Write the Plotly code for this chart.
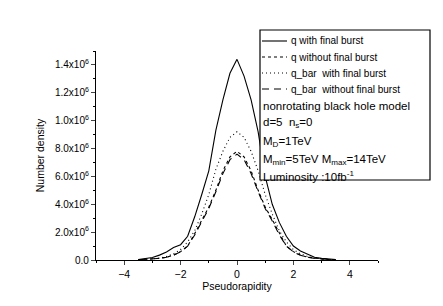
import plotly.graph_objects as go

eta = [-3.5, -3.25, -3.0, -2.75, -2.5, -2.25, -2.0, -1.75, -1.5, -1.25, -1.0, -0.75, -0.5, -0.25,
       0.0, 0.25, 0.5, 0.75, 1.0, 1.25, 1.5, 1.75, 2.0, 2.25, 2.5, 2.75, 3.0, 3.25, 3.5]

q_with_fb = [0.003, 0.008, 0.018, 0.035, 0.058, 0.09, 0.11, 0.17, 0.31, 0.47, 0.64, 0.93, 1.15, 1.34,
             1.44, 1.32, 1.15, 0.92, 0.60, 0.40, 0.27, 0.17, 0.10, 0.065, 0.04, 0.02, 0.012, 0.006, 0.003]
q_without_fb = [0.002, 0.004, 0.007, 0.012, 0.02, 0.035, 0.06, 0.10, 0.19, 0.29, 0.38, 0.50, 0.64, 0.74,
                0.78, 0.74, 0.64, 0.50, 0.38, 0.29, 0.19, 0.10, 0.06, 0.035, 0.02, 0.012, 0.007, 0.004, 0.002]
qbar_with_fb = [0.002, 0.004, 0.008, 0.014, 0.025, 0.045, 0.075, 0.13, 0.21, 0.33, 0.47, 0.65, 0.78, 0.88,
                0.92, 0.88, 0.78, 0.64, 0.47, 0.33, 0.21, 0.13, 0.075, 0.045, 0.025, 0.014, 0.008, 0.004, 0.002]
qbar_without_fb = [0.002, 0.004, 0.007, 0.012, 0.02, 0.034, 0.058, 0.10, 0.18, 0.28, 0.37, 0.49, 0.62, 0.72,
                   0.76, 0.72, 0.62, 0.49, 0.37, 0.28, 0.18, 0.10, 0.058, 0.034, 0.02, 0.012, 0.007, 0.004, 0.002]

series_names = ["q with final burst", "q without final burst", "q_bar  with final burst", "q_bar  without final burst"]
series_values = [q_with_fb, q_without_fb, qbar_with_fb, qbar_without_fb]
series_dash = ["solid", "3px,3px", "1px,3px", "7px,5px"]

y_tickvals = [0.0, 0.2, 0.4, 0.6, 0.8, 1.0, 1.2, 1.4]
y_ticktext = ["0.0", "2.0x10<sup>6</sup>", "4.0x10<sup>6</sup>", "6.0x10<sup>6</sup>", "8.0x10<sup>6</sup>",
              "1.0x10<sup>6</sup>", "1.2x10<sup>6</sup>", "1.4x10<sup>6</sup>"]
x_tickvals = [-4, -2, 0, 2, 4]

info_lines = ["nonrotating black hole model", "d=5  n<sub>s</sub>=0", "M<sub>D</sub>=1TeV",
              "M<sub>min</sub>=5TeV M<sub>max</sub>=14TeV", "Luminosity :10fb<sup>-1</sup>"]

FONT = "Liberation Sans, Arial, sans-serif"

fig = go.Figure()
for name, vals, dash in zip(series_names, series_values, series_dash):
    fig.add_trace(go.Scatter(x=eta, y=vals, mode="lines", name=name,
                             line=dict(color="black", width=1.1, dash=dash), showlegend=False))

# plot area geometry (pixels)
L, R, T, B = 88, 370, 43, 252
W, H = R - L, B - T
def px(xp): return (xp - L) / W
def py(yp): return (B - yp) / H

shapes = [dict(type="rect", xref="paper", yref="paper", x0=px(252), x1=px(422), y0=py(172), y1=py(22),
               line=dict(color="black", width=1.2), fillcolor="white", layer="above")]
annotations = []
row_y = [33, 49, 65, 81]
for name, dash, yy in zip(series_names, series_dash, row_y):
    shapes.append(dict(type="line", xref="paper", yref="paper", x0=px(254), x1=px(279), y0=py(yy), y1=py(yy),
                       line=dict(color="black", width=1.1, dash=dash), layer="above"))
    annotations.append(dict(xref="paper", yref="paper", x=px(281), y=py(yy), text=name, showarrow=False,
                            xanchor="left", yanchor="middle", font=dict(size=10, color="black", family=FONT)))
info_y = [98, 115, 134, 152, 168]
for txt, yy in zip(info_lines, info_y):
    annotations.append(dict(xref="paper", yref="paper", x=px(253), y=py(yy), text=txt, showarrow=False,
                            xanchor="left", yanchor="middle", font=dict(size=11.5, color="black", family=FONT)))

fig.update_layout(
    width=443, height=306, margin=dict(l=L, r=443 - R, t=T, b=306 - B),
    paper_bgcolor="white", plot_bgcolor="white",
    font=dict(family=FONT, size=10, color="black"),
    shapes=shapes, annotations=annotations,
    xaxis=dict(range=[-5, 5], tickvals=x_tickvals, ticks="outside", ticklen=4, tickwidth=1,
               showline=True, linecolor="black", linewidth=1.2, showgrid=False, zeroline=False,
               minor=dict(tickvals=[-5, -3, -1, 1, 3, 5], ticks="outside", ticklen=2, tickcolor="black"),
               title=dict(text="Pseudorapidity", font=dict(size=10.5), standoff=2),
               tickfont=dict(size=10.5)),
    yaxis=dict(range=[0, 1.5], tickvals=y_tickvals, ticktext=y_ticktext, ticks="outside", ticklen=4, tickwidth=1,
               showline=True, linecolor="black", linewidth=1.2, showgrid=False, zeroline=False,
               minor=dict(tickvals=[0.1, 0.3, 0.5, 0.7, 0.9, 1.1, 1.3, 1.5], ticks="outside", ticklen=2,
                          tickcolor="black"),
               title=dict(text="Number density", font=dict(size=10.5), standoff=8),
               tickfont=dict(size=10)),
)

fig.write_html("out.html")
